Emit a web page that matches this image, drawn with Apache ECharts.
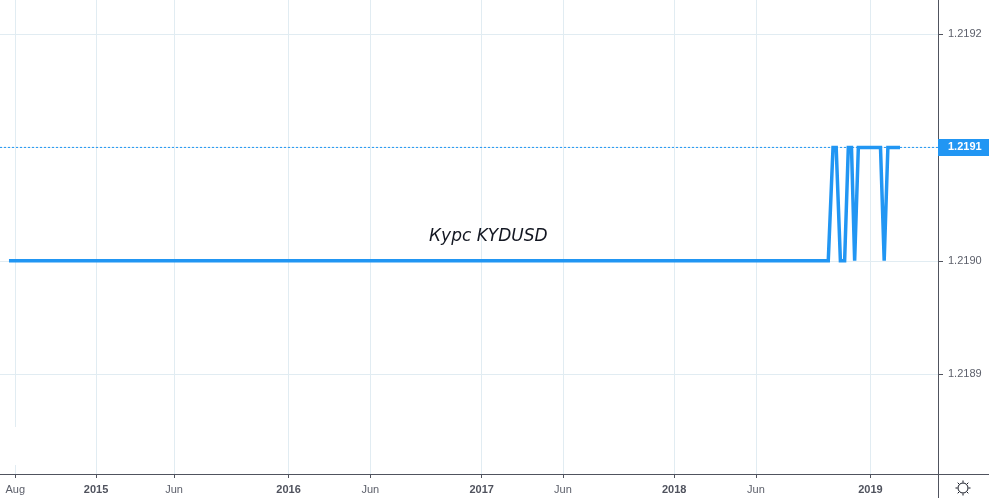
<!DOCTYPE html>
<html>
<head>
<meta charset="utf-8">
<style>html,body{margin:0;padding:0;background:#fff}#c{width:989px;height:498px}</style>
<script src="https://cdn.jsdelivr.net/npm/echarts@6/dist/echarts.min.js"></script>
</head>
<body>
<div id="c"></div>
<script>
const pointDates = ['2014-07-20','2018-10-20','2018-10-29','2018-11-04','2018-11-12','2018-11-20','2018-11-27','2018-12-03','2018-12-09','2018-12-16','2019-01-27','2019-02-03','2019-02-10','2019-03-05'];
const pointValues = [1.2190,1.2190,1.2191,1.2191,1.2190,1.2190,1.2191,1.2191,1.2190,1.2191,1.2191,1.2190,1.2191,1.2191];
const tickDates = ['2014-08-01','2015-01-01','2015-05-29','2016-01-01','2016-06-04','2017-01-01','2017-06-04','2018-01-01','2018-06-05','2019-01-08'];
const tickLabels = ['Aug','2015','Jun','2016','Jun','2017','Jun','2018','Jun','2019'];
const priceTicks = [1.2189,1.2190,1.2191,1.2192];
const lastPrice = 1.2191;
const chartTitle = 'Курс KYDUSD';
const axisStart = '2014-07-03';
const axisEnd = '2019-05-16';

const ts = s => new Date(s + 'T00:00:00Z').getTime();
const tickTs = tickDates.map(ts);
const AX = '#50535e', LABEL = '#5d606b', GRID = '#e1ecf2', BLUE = '#2196f3';
const chart = echarts.init(document.getElementById('c'), null, {renderer:'canvas'});

const sunTicks = [];
for (let i = 0; i < 8; i++) {
  const a = i * Math.PI / 4;
  sunTicks.push({type:'line', silent:true, shape:{
    x1:963 + 5.5*Math.cos(a), y1:488 + 5.5*Math.sin(a),
    x2:963 + 7.5*Math.cos(a), y2:488 + 7.5*Math.sin(a)},
    style:{stroke:'#131722', lineWidth:1}});
}

chart.setOption({
  animation:false,
  backgroundColor:'#fff',
  textStyle:{fontFamily:'"Liberation Sans",Arial,sans-serif'},
  grid:{left:0, right:51, top:0, bottom:24, containLabel:false},
  title:{text:chartTitle, left:429, top:228, padding:0,
    textStyle:{fontFamily:'"DejaVu Sans",sans-serif', fontStyle:'italic', fontWeight:'normal', fontSize:17, color:'#131722'}},
  xAxis:{
    type:'value', scale:true,
    min:ts(axisStart), max:ts(axisEnd),
    axisLine:{show:true, onZero:false, lineStyle:{color:AX, width:1}},
    axisTick:{show:true, customValues:tickTs, length:4, lineStyle:{color:AX}},
    axisLabel:{show:true, customValues:tickTs, margin:10, hideOverlap:false,
      formatter:function(v){
        const i = tickTs.indexOf(+v);
        const t = i < 0 ? '' : tickLabels[i];
        return /^\d+$/.test(t) ? '{y|'+t+'}' : '{m|'+t+'}';
      },
      rich:{y:{color:AX, fontSize:11, fontWeight:'bold', fontFamily:'"Liberation Sans",Arial,sans-serif'},
            m:{color:LABEL, fontSize:11, fontFamily:'"Liberation Sans",Arial,sans-serif'}}},
    splitLine:{show:true, lineStyle:{color:GRID, width:1}}
  },
  yAxis:{
    type:'value', position:'right', scale:true,
    min:1.218812, max:1.219230,
    axisLine:{show:true, onZero:false, lineStyle:{color:AX, width:1}},
    axisTick:{show:true, customValues:priceTicks, length:5, lineStyle:{color:AX}},
    axisLabel:{show:true, customValues:priceTicks, margin:10, color:LABEL, fontSize:11,
      formatter:v => Number(v).toFixed(4)},
    splitLine:{show:true, lineStyle:{color:GRID, width:1}}
  },
  series:[{
    type:'line', z:2, clip:false,
    data:[[ts(axisStart), lastPrice],[ts(axisEnd), lastPrice]],
    showSymbol:false, symbol:'none', silent:true,
    lineStyle:{color:BLUE, type:[2,2], width:1},
    endLabel:{show:true, distance:0, formatter:()=>lastPrice.toFixed(4),
      backgroundColor:BLUE, color:'#fff', fontWeight:'bold', fontSize:11,
      padding:[3,9,3,10], lineHeight:11}
  },{
    type:'line', z:3,
    data:pointDates.map((d,i)=>[ts(d), pointValues[i]]),
    showSymbol:false, symbol:'none',
    lineStyle:{color:BLUE, width:3.5, join:'miter', cap:'butt'}
  }],
  graphic:[
    {type:'rect', silent:true, z:1, shape:{x:14,y:427,width:3,height:38}, style:{fill:'#fff'}},
    {type:'line', silent:true, shape:{x1:938.5,y1:474,x2:938.5,y2:498}, style:{stroke:AX, lineWidth:1}},
    {type:'line', silent:true, shape:{x1:938,y1:474.5,x2:989,y2:474.5}, style:{stroke:AX, lineWidth:1}},
    {type:'circle', silent:true, shape:{cx:963,cy:488,r:5}, style:{fill:'none', stroke:'#131722', lineWidth:1}}
  ].concat(sunTicks)
});
</script>
</body>
</html>
